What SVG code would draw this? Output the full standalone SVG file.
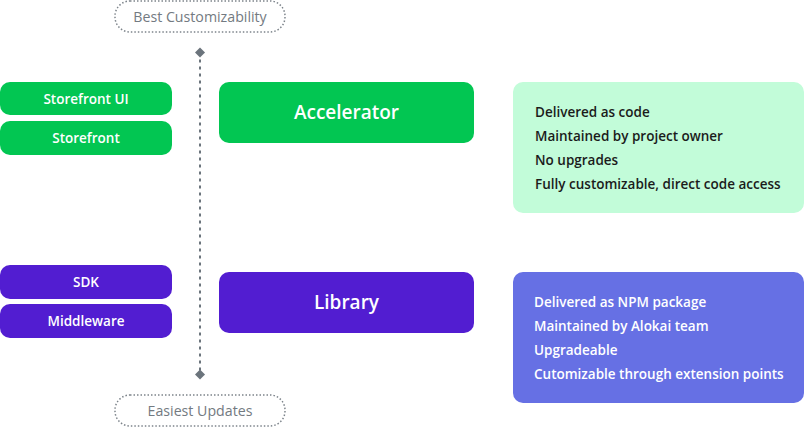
<svg xmlns="http://www.w3.org/2000/svg" width="804" height="428" viewBox="0 0 804 428">
  <style>
    text { font-family: "Open Sans", "Noto Sans", "Liberation Sans", sans-serif; }
    .pill-g { fill: #02c652; }
    .pill-p { fill: #521dd1; }
    .ptext { fill: #ffffff; font-size: 13.5px; font-weight: 600; text-anchor: middle; }
    .big { fill: #ffffff; font-size: 19px; font-weight: 600; text-anchor: middle; }
    .dark { fill: #1b1b1b; font-size: 13.5px; font-weight: 600; }
    .light { fill: #ffffff; font-size: 13.5px; font-weight: 600; }
    .tag { fill: #ffffff; stroke: #7d848b; stroke-width: 1.5; stroke-dasharray: 1.5 2; }
    .tagtext { fill: #737a81; font-size: 14.2px; font-weight: 400; text-anchor: middle; }
    .axis { stroke: #6b747c; stroke-width: 2; stroke-dasharray: 3 4; fill: none; }
  </style>
  <defs>
    <marker id="dia" viewBox="-6 -6 12 12" markerWidth="11" markerHeight="11" markerUnits="userSpaceOnUse" refX="0" refY="0" orient="auto">
      <path d="M0,-5.5 L5.5,0 L0,5.5 L-5.5,0 Z" fill="#6b747c"/>
    </marker>
  </defs>
  <rect width="804" height="428" fill="#ffffff"/>

  <g id="connectors">
    <line class="axis" x1="200" y1="52.5" x2="200" y2="374.5" marker-start="url(#dia)" marker-end="url(#dia)"/>
  </g>

  <g id="best-customizability">
    <rect class="tag" x="115" y="1" width="170" height="31" rx="15"/>
    <text class="tagtext" x="200" y="21.5">Best Customizability</text>
  </g>
  <g id="easiest-updates">
    <rect class="tag" x="115" y="395" width="170" height="31" rx="15"/>
    <text class="tagtext" x="200" y="415.5">Easiest Updates</text>
  </g>

  <g id="storefront-ui">
    <rect class="pill-g" x="0" y="82" width="172" height="33" rx="10"/>
    <text class="ptext" x="86" y="103.5">Storefront UI</text>
  </g>
  <g id="storefront">
    <rect class="pill-g" x="0" y="121" width="172" height="34" rx="10"/>
    <text class="ptext" x="86" y="142.5">Storefront</text>
  </g>
  <g id="sdk">
    <rect class="pill-p" x="0" y="265" width="172" height="34" rx="10"/>
    <text class="ptext" x="86" y="286.5">SDK</text>
  </g>
  <g id="middleware">
    <rect class="pill-p" x="0" y="304" width="172" height="34" rx="10"/>
    <text class="ptext" x="86" y="325.5">Middleware</text>
  </g>

  <g id="accelerator">
    <rect class="pill-g" x="219" y="82" width="255" height="61" rx="10"/>
    <text class="big" x="346.5" y="119">Accelerator</text>
  </g>
  <g id="library">
    <rect class="pill-p" x="219" y="272" width="255" height="61" rx="10"/>
    <text class="big" x="346.5" y="309">Library</text>
  </g>

  <g id="accelerator-info">
    <rect x="513" y="82" width="291" height="131" rx="10" fill="#c2fcd9"/>
    <text class="dark" x="535" y="116.5">Delivered as code</text>
    <text class="dark" x="535" y="140.5">Maintained by project owner</text>
    <text class="dark" x="535" y="164.5">No upgrades</text>
    <text class="dark" x="535" y="188.5">Fully customizable, direct code access</text>
  </g>
  <g id="library-info">
    <rect x="513" y="272" width="291" height="131" rx="10" fill="#6670e4"/>
    <text class="light" x="534" y="306.5">Delivered as NPM package</text>
    <text class="light" x="534" y="330.5">Maintained by Alokai team</text>
    <text class="light" x="534" y="354.5">Upgradeable</text>
    <text class="light" x="534" y="378.5">Cutomizable through extension points</text>
  </g>
</svg>
